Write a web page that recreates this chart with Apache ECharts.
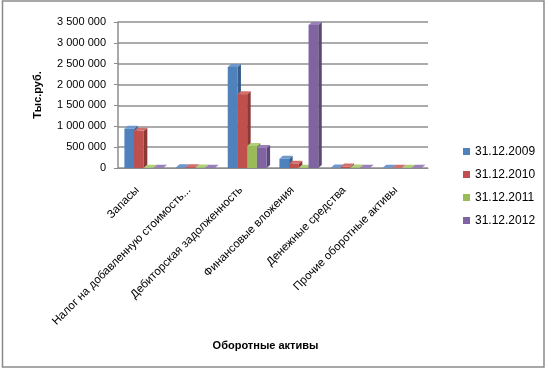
<!DOCTYPE html>
<html><head><meta charset="utf-8">
<script src="https://cdn.jsdelivr.net/npm/echarts@6/dist/echarts.min.js"></script>
<style>html,body{margin:0;padding:0;background:#fff}#c{width:546px;height:369px}</style>
</head><body><div id="c"></div>
<script>
const categories = ['Запасы','Налог на добавленную стоимость...','Дебиторская задолженность','Финансовые вложения','Денежные средства','Прочие оборотные активы'];
const seriesNames = ['31.12.2009','31.12.2010','31.12.2011','31.12.2012'];
const s2009 = [940000, 15000, 2420000, 220000, 10000, 5000];
const s2010 = [890000, 20000, 1770000, 100000, 35000, 5000];
const s2011 = [5000, 10000, 530000, 8000, 10000, 5000];
const s2012 = [5000, 8000, 480000, 3430000, 5000, 5000];
const yTicks = [0, 500000, 1000000, 1500000, 2000000, 2500000, 3000000, 3500000];

const allValues = [s2009, s2010, s2011, s2012];
const colors = ['#4F81BD','#C0504D','#9BBB59','#8064A2'];
const sides = ['#385D8A','#8C3836','#71893F','#5C4776'];
const tops = ['#6E97CC','#D26E6B','#B1CE79','#9A80BA'];
const FONT = 'Liberation Sans';

function makeRender(si){
  return function(params, api){
    const ci = api.value(0), v = api.value(1);
    const base = api.coord([ci, 0]);
    const top = api.coord([ci, v]);
    const band = api.size([1, 0])[0];
    const w = band * 0.188;
    const dx = 3.5, dy = 3;
    const x = base[0] - 2 * w + si * w;
    const y0 = base[1], y1 = top[1];
    return {
      type: 'group',
      children: [
        {type:'polygon', shape:{points:[[x+w,y1],[x+w+dx,y1-dy],[x+w+dx,y0-dy],[x+w,y0]]}, style:{fill:sides[si]}},
        {type:'polygon', shape:{points:[[x,y1],[x+dx,y1-dy],[x+w+dx,y1-dy],[x+w,y1]]}, style:{fill:tops[si]}},
        {type:'rect', shape:{x:x, y:y1, width:w, height:Math.max(0,y0-y1)}, style:{fill:colors[si]}}
      ]
    };
  };
}

const series = allValues.map((vals, si) => ({
  type: 'custom',
  name: seriesNames[si],
  color: colors[si],
  itemStyle: {color: colors[si]},
  renderItem: makeRender(si),
  encode: {x: 0, y: 1},
  data: vals.map((v, i) => [i, v])
}));

const chart = echarts.init(document.getElementById('c'));
chart.setOption({
  animation: false,
  textStyle: {fontFamily: FONT},
  grid: {left: 118, right: 118, top: 22, bottom: 201},
  legend: {
    orient: 'vertical', left: 458, top: 140,
    itemWidth: 7, itemHeight: 7, itemGap: 10, icon: 'rect',
    textStyle: {fontSize: 12, color: '#000', fontFamily: FONT, lineHeight: 13},
    data: seriesNames
  },
  xAxis: {
    type: 'category', data: categories,
    name: 'Оборотные активы', nameLocation: 'middle', nameGap: 172,
    nameTextStyle: {fontSize: 11, fontWeight: 'bold', color: '#000', fontFamily: FONT, padding: [0, 15, 0, 0]},
    axisLine: {lineStyle: {color: '#8c8c8c', width: 1}},
    axisTick: {show: false},
    axisLabel: {rotate: 45, interval: 0, margin: 14, padding: [0, 9, 0, 0], fontSize: 11.5, color: '#000', fontFamily: FONT}
  },
  yAxis: {
    type: 'value', min: 0, max: 3500000, interval: 500000,
    name: 'Тыс.руб.', nameLocation: 'middle', nameGap: 75,
    nameTextStyle: {fontSize: 11, fontWeight: 'bold', color: '#000', fontFamily: FONT},
    axisLine: {show: true, lineStyle: {color: '#8c8c8c', width: 1.5}},
    axisTick: {show: true, length: 4, lineStyle: {color: '#8c8c8c'}},
    splitLine: {lineStyle: {color: '#8f8f8f', width: 1.5}},
    axisLabel: {fontSize: 11, color: '#000', margin: 12, fontFamily: FONT,
      formatter: v => yTicks.includes(v) ? String(v).replace(/\B(?=(\d{3})+(?!\d))/g, ' ') : ''}
  },
  graphic: [{type:'rect', shape:{x:2.5, y:1, width:541.5, height:366}, style:{fill:'none', stroke:'#8a8a8a', lineWidth:1.5}, silent:true}],
  series: series
});
</script></body></html>
